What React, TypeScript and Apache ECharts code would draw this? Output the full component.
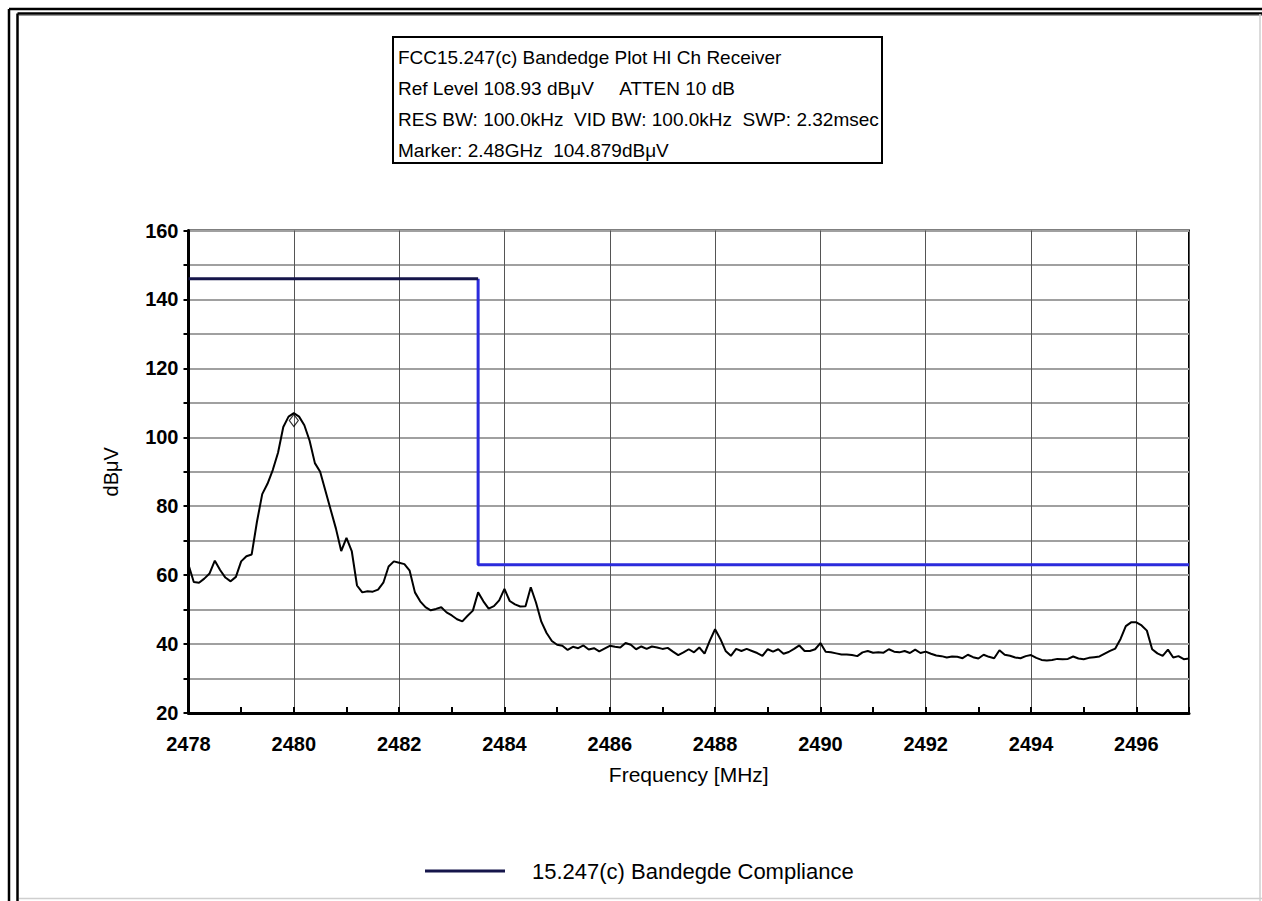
import React, { useEffect, useRef } from "react";
import * as echarts from "echarts";

// ---- data ----
const sweepStart = 2478.0; // MHz
const sweepStep = 0.1; // MHz
const traceLevels = [
  63, 58, 57.8, 59, 60.5, 64.2, 61.5, 59.3, 58.2, 59.5,
  64, 65.5, 66, 75.5, 83.5, 86.5, 90.5, 95.5, 103, 106,
  107, 106, 103.5, 99, 92.5, 90, 84.5, 79, 73.5, 67,
  70.8, 67, 57, 55, 55.3, 55.2, 55.8, 57.8, 62.5, 64,
  63.6, 63.2, 61.3, 55, 52.4, 50.7, 49.8, 50.2, 50.7, 49.2,
  48.3, 47.2, 46.6, 48.2, 49.7, 55.0, 52.4, 50.3, 51, 52.7,
  56, 52.5, 51.5, 50.9, 51, 56.5, 52, 46.5, 43.2, 40.9,
  39.8, 39.5, 38.3, 39.2, 38.8, 39.6, 38.4, 38.8, 37.9, 38.7,
  39.5, 39.2, 39.0, 40.3, 39.8, 38.5, 39.3, 38.6, 39.3, 39.0,
  38.6, 38.9, 37.8, 36.8, 37.6, 38.5, 37.6, 39.0, 37.2, 41.0,
  44.3, 41.5, 38.0, 36.6, 38.6, 38.0, 38.6, 38.0, 37.4, 36.6,
  38.5, 37.8, 38.5, 37.2, 37.7, 38.6, 39.6, 38.0, 38.0, 38.5,
  40.3, 37.8, 37.6, 37.3, 37.0, 37.0, 36.8, 36.5, 37.6, 38.0,
  37.5, 37.6, 37.5, 38.5, 37.8, 37.6, 38.0, 37.4, 38.4, 37.4,
  37.8, 37.2, 36.7, 36.5, 36.1, 36.4, 36.3, 35.9, 36.9, 36.2,
  35.8, 36.9, 36.3, 35.9, 38.2, 36.9, 36.6, 36.1, 35.9, 36.5,
  36.8, 36.0, 35.4, 35.2, 35.4, 35.7, 35.6, 35.7, 36.4, 35.8,
  35.6, 36.0, 36.2, 36.4, 37.2, 38.0, 38.7, 41.5, 45.2, 46.3,
  46.3, 45.4, 43.9, 38.5, 37.3, 36.6, 38.4, 36.1, 36.5, 35.6,
  35.8,
];

const limitFreqs = [2478, 2483.5, 2483.5, 2497];
const limitLevels = [146, 146, 63, 63];

const markerFreq = 2480.0;
const markerLevel = 104.879;

const xMin = 2478;
const xMax = 2497;
const xInterval = 2;
const yMin = 20;
const yMax = 160;
const yInterval = 10;
const yLabelStep = 20;

const headerLines = [
  "FCC15.247(c) Bandedge Plot HI Ch Receiver",
  "Ref Level 108.93 dBμV     ATTEN 10 dB",
  "RES BW: 100.0kHz  VID BW: 100.0kHz  SWP: 2.32msec",
  "Marker: 2.48GHz  104.879dBμV",
];
const legendName = "15.247(c) Bandegde Compliance";
const xAxisName = "Frequency [MHz]";
const yAxisName = "dBμV";

const FONT = "'Liberation Sans', Arial, Helvetica, sans-serif";

export default function App() {
  const ref = useRef<HTMLDivElement>(null);

  useEffect(() => {
    if (!ref.current) return;
    const chart = echarts.init(ref.current, null, { renderer: "svg" });

    const traceData = traceLevels.map((v, i) => [
      +(sweepStart + i * sweepStep).toFixed(2),
      v,
    ]);
    const limitUpper = [
      [limitFreqs[0], limitLevels[0]],
      [limitFreqs[1], limitLevels[1]],
    ];
    const limitLower = limitFreqs.slice(1).map((f, i) => [f, limitLevels[i + 1]]);

    const headerGraphics: any[] = headerLines.map((t, i) => ({
      type: "text",
      left: 398,
      top: 48 + i * 31,
      z: 10,
      style: { text: t, fill: "#000", font: `19px ${FONT}` },
    }));

    chart.setOption({
      animation: false,
      backgroundColor: "#fff",
      grid: {
        left: 188.5,
        right: 73,
        top: 230.5,
        bottom: 188,
        show: true,
        borderColor: "#000",
        borderWidth: 2,
        backgroundColor: "transparent",
      },
      legend: {
        data: [legendName],
        left: 420,
        top: 855,
        icon: "rect",
        itemWidth: 80,
        itemHeight: 3,
        textStyle: {
          fontSize: 22,
          color: "#000",
          fontFamily: FONT,
          padding: [0, 0, 0, 22],
        },
      },
      xAxis: {
        type: "value",
        min: xMin,
        max: xMax,
        interval: xInterval,
        name: xAxisName,
        nameLocation: "middle",
        nameGap: 51,
        nameTextStyle: { fontSize: 21, color: "#000", fontFamily: FONT },
        axisLine: { show: true, lineStyle: { color: "#000", width: 3 } },
        axisTick: { show: true, inside: true, length: 6, lineStyle: { color: "#000", width: 2 } },
        minorTick: { show: true, splitNumber: 2, length: 6, lineStyle: { color: "#000", width: 2 } },
        axisLabel: {
          fontSize: 20,
          fontWeight: "bold",
          color: "#000",
          fontFamily: FONT,
          margin: 21,
          formatter: (v: number) => ((v - xMin) % xInterval === 0 ? String(v) : ""),
        },
        splitLine: { show: true, lineStyle: { color: "#555", width: 1 } },
      },
      yAxis: {
        type: "value",
        min: yMin,
        max: yMax,
        interval: yInterval,
        name: yAxisName,
        nameLocation: "middle",
        nameRotate: 90,
        nameGap: 68,
        nameTextStyle: { fontSize: 20, color: "#000", fontFamily: FONT },
        axisLine: { show: true, lineStyle: { color: "#000", width: 3 } },
        axisTick: { show: true, length: 5, lineStyle: { color: "#000", width: 2 } },
        axisLabel: {
          fontSize: 20,
          fontWeight: "bold",
          color: "#000",
          fontFamily: FONT,
          margin: 10,
          formatter: (v: number) => (v % yLabelStep === 0 ? String(v) : ""),
        },
        splitLine: { show: true, lineStyle: { color: "#a0a0a0", width: 2 } },
      },
      series: [
        {
          name: "Trace",
          type: "line",
          data: traceData,
          symbol: "none",
          lineStyle: { color: "#000", width: 2 },
          z: 3,
        },
        {
          name: "Marker",
          type: "scatter",
          data: [[markerFreq, markerLevel]],
          symbol: "diamond",
          symbolSize: [9, 12],
          itemStyle: { color: "rgba(255,255,255,0)", borderColor: "#000", borderWidth: 1.2 },
          z: 4,
        },
        {
          name: "LimitLower",
          type: "line",
          data: limitLower,
          symbol: "none",
          lineStyle: { color: "#2b2bdc", width: 3 },
          z: 5,
        },
        {
          name: legendName,
          type: "line",
          data: limitUpper,
          symbol: "none",
          lineStyle: { color: "#15154a", width: 3 },
          itemStyle: { color: "#15154a" },
          z: 6,
        },
      ],
      graphic: [
        { type: "line", shape: { x1: 9, y1: 9, x2: 9, y2: 901 }, style: { stroke: "#000", lineWidth: 2.5 } },
        { type: "line", shape: { x1: 9, y1: 9, x2: 1262, y2: 9 }, style: { stroke: "#000", lineWidth: 2.5 } },
        { type: "line", shape: { x1: 17.5, y1: 13.5, x2: 17.5, y2: 901 }, style: { stroke: "#000", lineWidth: 2.5 } },
        { type: "line", shape: { x1: 17.5, y1: 13.5, x2: 1262, y2: 13.5 }, style: { stroke: "#000", lineWidth: 2.5 } },
        { type: "line", shape: { x1: 19, y1: 15.5, x2: 1262, y2: 15.5 }, style: { stroke: "#999", lineWidth: 1 } },
        { type: "line", shape: { x1: 1260, y1: 14, x2: 1260, y2: 901 }, style: { stroke: "#cfcfcf", lineWidth: 1.5 } },
        { type: "line", shape: { x1: 19, y1: 898.5, x2: 1262, y2: 898.5 }, style: { stroke: "#cfcfcf", lineWidth: 1.5 } },
        {
          type: "rect",
          shape: { x: 393, y: 37, width: 489, height: 126 },
          style: { fill: "#fff", stroke: "#000", lineWidth: 2 },
          z: 9,
        },
        ...headerGraphics,
      ],
    });

    return () => chart.dispose();
  }, []);

  return (
    <div
      ref={ref}
      style={{ position: "fixed", left: 0, top: 0, width: 1262, height: 901, background: "#fff" }}
    />
  );
}
